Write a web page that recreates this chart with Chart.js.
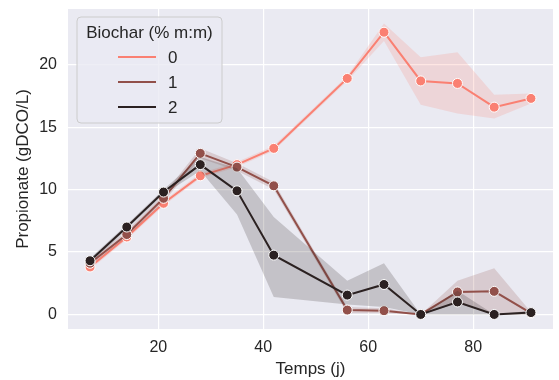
<!DOCTYPE html>
<html>
<head>
<meta charset="utf-8">
<script src="https://cdn.jsdelivr.net/npm/chart.js@4.4.0/dist/chart.umd.min.js"></script>
<style>
  html, body { margin: 0; padding: 0; background: #fff; }
  #wrap { width: 559px; height: 380px; position: relative; }
</style>
</head>
<body>
<div id="wrap"><canvas id="myChart" width="559" height="380"></canvas></div>
<script>
// days
var jours = [7, 14, 21, 28, 35, 42, 56, 63, 70, 77, 84, 91];
var biochar = ['0', '1', '2'];

// mean propionate per biochar level
var prop0 = [3.8, 6.2, 8.9, 11.1, 12.0, 13.3, 18.9, 22.6, 18.7, 18.5, 16.6, 17.3];
var prop1 = [4.1, 6.4, 9.3, 12.9, 11.8, 10.3, 0.35, 0.3, 0.0, 1.8, 1.85, 0.1];
var prop2 = [4.3, 7.0, 9.8, 12.0, 9.9, 4.75, 1.55, 2.4, 0.0, 1.0, 0.0, 0.15];

// confidence bands
var bas0 = [3.6, 6.0, 8.7, 10.9, 11.8, 13.1, 18.7, 21.9, 16.8, 16.1, 15.7, 16.9];
var haut0 = [4.0, 6.4, 9.1, 11.3, 12.2, 13.5, 19.1, 23.3, 20.6, 21.0, 17.6, 17.7];
var bas1 = [3.9, 6.2, 9.0, 12.5, 11.5, 10.0, 0.1, 0.1, 0.0, 0.9, 0.0, 0.0];
var haut1 = [4.3, 6.7, 9.6, 13.3, 12.1, 10.6, 0.6, 0.5, 0.0, 2.7, 3.7, 0.2];
var bas2 = [4.1, 6.8, 9.6, 11.5, 8.0, 1.4, 0.8, 0.6, 0.0, 0.0, 0.0, 0.0];
var haut2 = [4.5, 7.2, 10.0, 12.6, 11.7, 7.8, 2.7, 4.1, 0.0, 1.9, 0.0, 0.3];

var xTicks = [20, 40, 60, 80];
var yTicks = [0, 5, 10, 15, 20];

var couleurs = ['#FA8072', '#92504A', '#2B2121'];
var bandes = ['rgba(250,128,114,0.2)', 'rgba(146,80,74,0.2)', 'rgba(43,33,33,0.2)'];

var moyennes = [prop0, prop1, prop2];
var bas = [bas0, bas1, bas2];
var haut = [haut0, haut1, haut2];

function pts(arr) {
  return jours.map(function (j, i) { return { x: j, y: arr[i] }; });
}

// index 0 is drawn last (on top), so hue 2 goes first
var datasets = [];
[2, 1, 0].forEach(function (h) {
  datasets.push({
    label: biochar[h],
    data: pts(moyennes[h]),
    borderColor: couleurs[h],
    backgroundColor: couleurs[h],
    borderWidth: 2,
    pointRadius: 5,
    pointBorderColor: '#ffffff',
    pointBorderWidth: 1,
    pointBackgroundColor: couleurs[h],
    fill: false
  });
  datasets.push({
    label: 'haut' + h,
    data: pts(haut[h]),
    borderWidth: 0,
    pointRadius: 0,
    backgroundColor: bandes[h],
    fill: '+1'
  });
  datasets.push({
    label: 'bas' + h,
    data: pts(bas[h]),
    borderWidth: 0,
    pointRadius: 0,
    fill: false
  });
});

var fond = {
  id: 'fond',
  beforeDraw: function (chart) {
    var a = chart.chartArea, c = chart.ctx;
    c.save();
    c.fillStyle = '#EAEAF2';
    c.fillRect(a.left, a.top, a.right - a.left, a.bottom - a.top);
    c.restore();
  }
};

var legende = {
  id: 'legende',
  afterDraw: function (chart) {
    var c = chart.ctx;
    var x0 = 77, y0 = 17, w = 145, h = 106, r = 4;
    c.save();
    c.beginPath();
    c.moveTo(x0 + r, y0);
    c.arcTo(x0 + w, y0, x0 + w, y0 + h, r);
    c.arcTo(x0 + w, y0 + h, x0, y0 + h, r);
    c.arcTo(x0, y0 + h, x0, y0, r);
    c.arcTo(x0, y0, x0 + w, y0, r);
    c.closePath();
    c.fillStyle = 'rgba(234,234,242,0.8)';
    c.fill();
    c.strokeStyle = '#cccccc';
    c.lineWidth = 1;
    c.stroke();

    c.fillStyle = '#262626';
    c.font = '17px "Liberation Sans", Arial, sans-serif';
    c.textBaseline = 'middle';
    c.textAlign = 'center';
    c.fillText('Biochar (% m:m)', x0 + w / 2, 33);
    c.textAlign = 'left';
    biochar.forEach(function (b, i) {
      var y = 57 + i * 25;
      c.strokeStyle = couleurs[i];
      c.lineWidth = 2;
      c.beginPath();
      c.moveTo(118, y);
      c.lineTo(156, y);
      c.stroke();
      c.fillStyle = '#262626';
      c.fillText(b, 168, y + 1);
    });
    c.restore();
  }
};

var police = { family: '"Liberation Sans", Arial, sans-serif', size: 16 };

function sansMarge(s) {
  s.paddingTop = 0;
  s.paddingBottom = 0;
  s.paddingLeft = 0;
  s.paddingRight = 0;
}

new Chart(document.getElementById('myChart'), {
  type: 'line',
  data: { datasets: datasets },
  plugins: [fond, legende],
  options: {
    responsive: false,
    animation: false,
    layout: { padding: { top: 9, right: 0, left: 0, bottom: 0 } },
    plugins: {
      legend: { display: false },
      tooltip: { enabled: false }
    },
    scales: {
      x: {
        type: 'linear',
        min: 2.8,
        max: 95.2,
        afterBuildTicks: function (s) { s.ticks = xTicks.map(function (v) { return { value: v }; }); },
        afterFit: function (s) { s.height = 51; sansMarge(s); },
        grid: { color: '#ffffff', lineWidth: 1.2, drawTicks: false },
        border: { display: false },
        ticks: { color: '#262626', font: police, padding: 9, maxRotation: 0 },
        title: { display: true, text: 'Temps (j)', color: '#262626', font: { family: police.family, size: 17 }, padding: { top: 2, bottom: 0 } }
      },
      y: {
        type: 'linear',
        min: -1.165,
        max: 24.46,
        afterBuildTicks: function (s) { s.ticks = yTicks.map(function (v) { return { value: v }; }); },
        afterFit: function (s) { s.width = 68; sansMarge(s); },
        grid: { color: '#ffffff', lineWidth: 1.2, drawTicks: false },
        border: { display: false },
        ticks: { color: '#262626', font: police, padding: 11 },
        title: { display: true, text: 'Propionate (gDCO/L)', color: '#262626', font: { family: police.family, size: 17 }, padding: { top: 13, bottom: 4 } }
      }
    }
  }
});
</script>
</body>
</html>
